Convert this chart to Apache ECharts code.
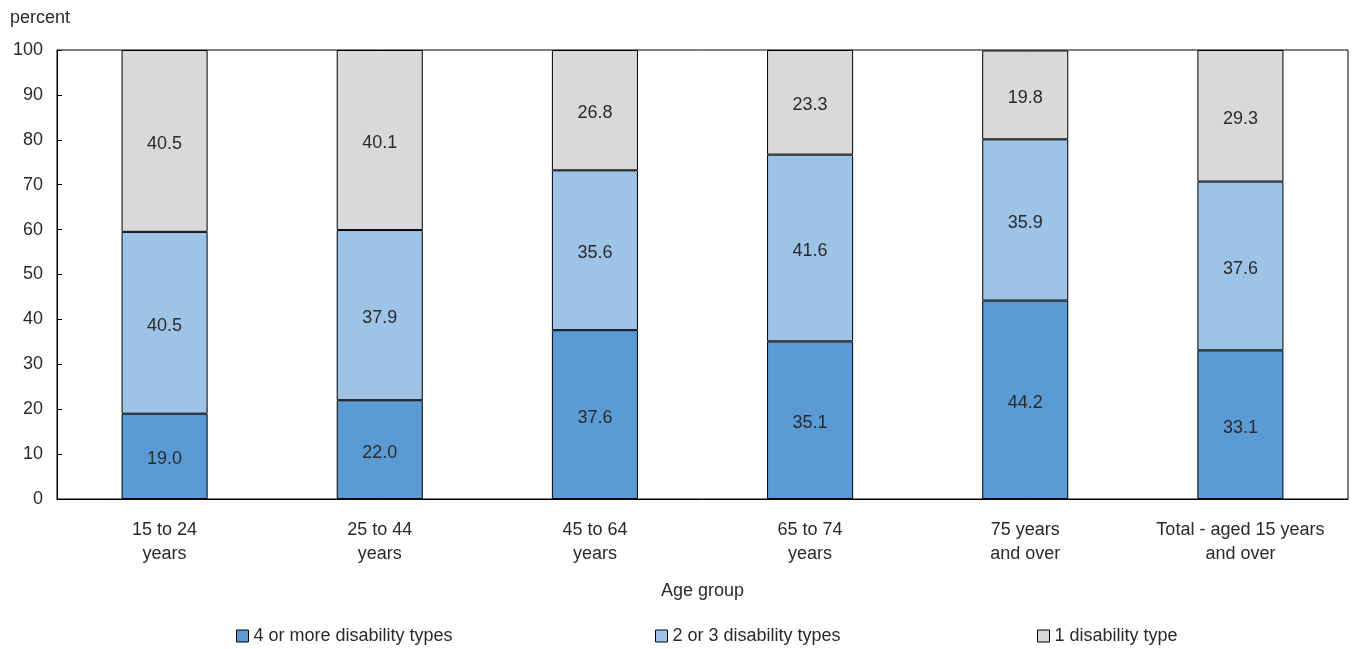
<!DOCTYPE html>
<html>
<head>
<meta charset="utf-8">
<script src="https://cdn.jsdelivr.net/npm/echarts@6/dist/echarts.min.js"></script>
<style>
  html, body { margin: 0; padding: 0; background: #fff; }
  #chart { width: 1352px; height: 649px; }
</style>
</head>
<body>
<div id="chart"></div>
<script>
// Age groups on the category axis
const categories = ['15 to 24\nyears', '25 to 44\nyears', '45 to 64\nyears', '65 to 74\nyears', '75 years\nand over', 'Total - aged 15 years\nand over'];

// Share of persons with disabilities, by number of disability types (percent)
const fourOrMore = [19.0, 22.0, 37.6, 35.1, 44.2, 33.1];
const twoOrThree = [40.5, 37.9, 35.6, 41.6, 35.9, 37.6];
const oneType    = [40.5, 40.1, 26.8, 23.3, 19.8, 29.3];

const seriesNames = ['4 or more disability types', '2 or 3 disability types', '1 disability type'];
const seriesColors = ['#5b9bd5', '#9dc3e6', '#d9d9d9'];
const yTicks = [0, 10, 20, 30, 40, 50, 60, 70, 80, 90, 100];

const FONT = "'Liberation Sans Narrow', 'Arial Narrow', 'Liberation Sans', sans-serif";
const TEXT = '#2a2a2a';

const chart = echarts.init(document.getElementById('chart'), null, { renderer: 'canvas' });

function barSeries(name, data, color) {
  return {
    name: name,
    type: 'bar',
    stack: 'total',
    data: data,
    barWidth: '40%',
    itemStyle: { color: color, borderColor: '#000', borderWidth: 1 },
    label: {
      show: true,
      position: 'inside',
      offset: [0, 3],
      formatter: p => p.value.toFixed(1),
      color: TEXT,
      fontFamily: FONT,
      fontSize: 18
    },
    emphasis: { disabled: true }
  };
}

const legendLefts = [231, 650, 1032];

chart.setOption({
  animation: false,
  textStyle: { fontFamily: FONT },
  grid: { left: 57, right: 4, top: 50, bottom: 150, show: true, borderColor: '#000', borderWidth: 1 },
  xAxis: {
    type: 'category',
    data: categories,
    name: 'Age group',
    nameLocation: 'middle',
    nameGap: 83,
    nameTextStyle: { color: TEXT, fontSize: 18, fontFamily: FONT },
    axisLine: { lineStyle: { color: '#000', width: 1 } },
    axisTick: { show: false },
    axisLabel: { interval: 0, color: TEXT, fontSize: 18, fontFamily: FONT, lineHeight: 24, margin: 19 }
  },
  yAxis: {
    type: 'value',
    min: yTicks[0],
    max: yTicks[yTicks.length - 1],
    interval: 10,
    axisLine: { show: true, lineStyle: { color: '#000', width: 1 } },
    axisTick: { show: true, inside: true, length: 5, lineStyle: { color: '#000' } },
    splitLine: { show: false },
    axisLabel: { color: TEXT, fontSize: 18, fontFamily: FONT, margin: 14, padding: [4, 0, 0, 0] }
  },
  legend: seriesNames.map((n, i) => ({
    data: [n],
    left: legendLefts[i],
    top: 622,
    itemWidth: 12,
    itemHeight: 12,
    itemGap: 6,
    icon: 'rect',
    itemStyle: { borderColor: '#000', borderWidth: 1 },
    textStyle: { color: TEXT, fontSize: 18, fontFamily: FONT },
    selectedMode: false
  })),
  graphic: [{
    type: 'text',
    left: 10,
    top: 9,
    style: { text: 'percent', fill: TEXT, font: '18px ' + FONT }
  }],
  series: [
    barSeries(seriesNames[0], fourOrMore, seriesColors[0]),
    barSeries(seriesNames[1], twoOrThree, seriesColors[1]),
    barSeries(seriesNames[2], oneType, seriesColors[2])
  ]
});
</script>
</body>
</html>
